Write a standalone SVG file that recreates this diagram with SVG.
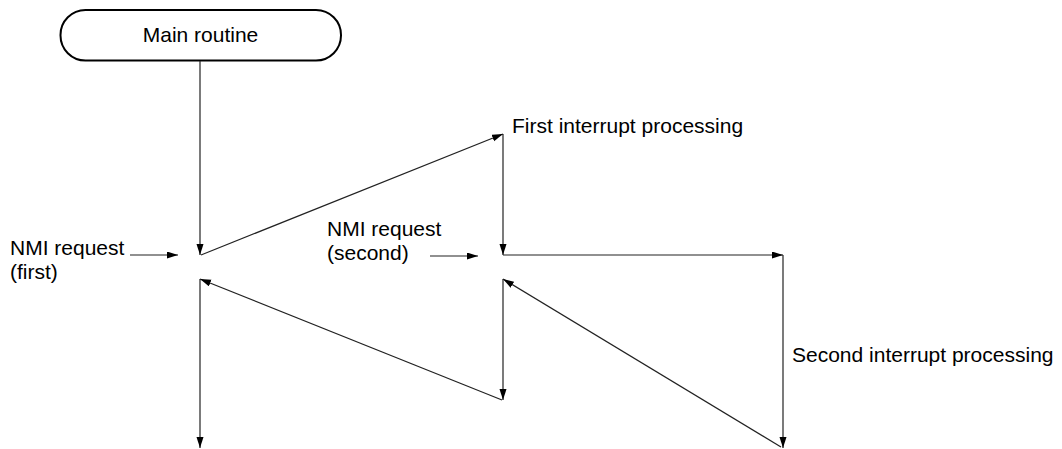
<svg xmlns="http://www.w3.org/2000/svg" width="1062" height="449" viewBox="0 0 1062 449">
<style>
text{font-family:"Liberation Sans",Arial,sans-serif;font-size:21px;fill:#000}
.c{fill:none;stroke:#222;stroke-width:1.2;marker-end:url(#ah)}
</style>
<defs>
<marker id="ah" markerUnits="userSpaceOnUse" markerWidth="12" markerHeight="8" refX="11" refY="3.5" orient="auto">
<path d="M0,0 L11,3.5 L0,7 z" fill="#000"/>
</marker>
</defs>
<rect width="1062" height="449" fill="#fff"/>
<g id="main">
<rect x="60.5" y="10" width="280.5" height="50.5" rx="25" ry="25" fill="#fff" stroke="#000" stroke-width="2"/>
<text x="200.5" y="42" text-anchor="middle">Main routine</text>
</g>
<g id="nmi1">
<text x="10" y="255">NMI request</text>
<text x="10" y="279">(first)</text>
</g>
<g id="nmi2">
<text x="327" y="236">NMI request</text>
<text x="327" y="260">(second)</text>
</g>
<g id="first">
<text x="512" y="133">First interrupt processing</text>
</g>
<g id="second">
<text x="792" y="362">Second interrupt processing</text>
</g>
<g id="connectors">
<line class="c" x1="200" y1="61" x2="200" y2="255"/>
<line class="c" x1="201" y1="255" x2="503" y2="134"/>
<line class="c" x1="503" y1="134" x2="503" y2="255"/>
<line class="c" x1="503" y1="255" x2="783" y2="255"/>
<line class="c" x1="783" y1="255" x2="783" y2="448"/>
<line class="c" x1="781" y1="447" x2="503" y2="279"/>
<line class="c" x1="503" y1="279" x2="503" y2="400"/>
<line class="c" x1="502" y1="400" x2="200" y2="279"/>
<line class="c" x1="200" y1="279" x2="200" y2="448"/>
<line class="c" x1="130" y1="255" x2="178" y2="255"/>
<line class="c" x1="430" y1="256" x2="478" y2="256"/>
</g>
</svg>
